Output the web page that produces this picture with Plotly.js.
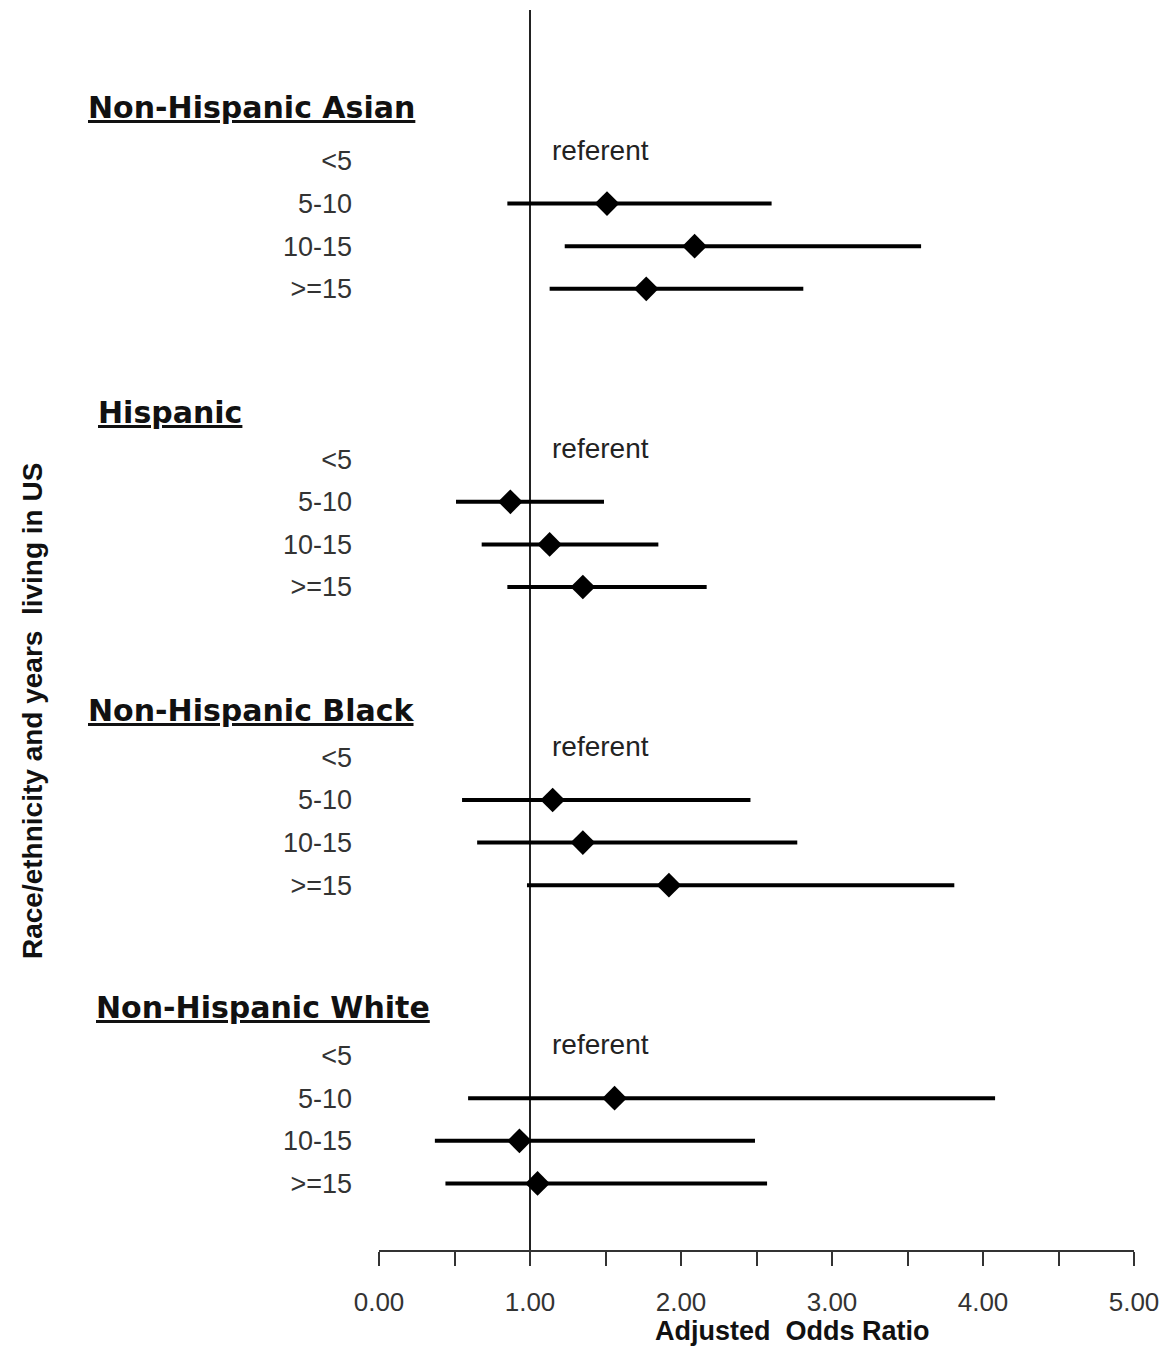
<!DOCTYPE html>
<html>
<head>
<meta charset="utf-8">
<script src="https://cdn.plot.ly/plotly-3.0.1.min.js"></script>
<style>html,body{margin:0;padding:0;background:#fff;}</style>
</head>
<body>
<div id="chart" style="width:1169px;height:1349px;"></div>
<script>
// ---- data ----
var groups = ["Non-Hispanic Asian", "Hispanic", "Non-Hispanic Black", "Non-Hispanic White"];
var rows = ["<5", "5-10", "10-15", ">=15"];
var refLabel = "referent";

var asianOR   = [null, 1.51, 2.09, 1.77];
var asianLow  = [null, 0.85, 1.23, 1.13];
var asianHigh = [null, 2.60, 3.59, 2.81];

var hispOR   = [null, 0.87, 1.13, 1.35];
var hispLow  = [null, 0.51, 0.68, 0.85];
var hispHigh = [null, 1.49, 1.85, 2.17];

var blackOR   = [null, 1.15, 1.35, 1.92];
var blackLow  = [null, 0.55, 0.65, 0.98];
var blackHigh = [null, 2.46, 2.77, 3.81];

var whiteOR   = [null, 1.56, 0.93, 1.05];
var whiteLow  = [null, 0.59, 0.37, 0.44];
var whiteHigh = [null, 4.08, 2.49, 2.57];

var xTickVals = [0, 0.5, 1, 1.5, 2, 2.5, 3, 3.5, 4, 4.5, 5];
var xTickText = ["0.00", "", "1.00", "", "2.00", "", "3.00", "", "4.00", "", "5.00"];
var xTitle = "Adjusted  Odds Ratio";
var yTitle = "Race/ethnicity and years  living in US";

// ---- build ----
var ORs = [asianOR, hispOR, blackOR, whiteOR];
var lows = [asianLow, hispLow, blackLow, whiteLow];
var highs = [asianHigh, hispHigh, blackHigh, whiteHigh];

var W = 1169, H = 1349;
var M = {l: 379, r: 35, t: 10, b: 99};
var plotW = W - M.l - M.r, plotH = H - M.t - M.b;
function pxX(px) { return (px - M.l) / plotW; }
function pxY(py) { return (H - M.b - py) / plotH; }

var GROUP_STEP = 7;
var xs = [], ys = [], ep = [], em = [];
var tickVals = [], tickText = [];
var annotations = [];
var headerLeft = [86, 96, 86, 94];
var headerOff = [-1.25, -1.1, -1.1, -1.12];

for (var g = 0; g < groups.length; g++) {
  for (var r = 0; r < rows.length; r++) {
    var yy = g * GROUP_STEP + r;
    tickVals.push(yy);
    tickText.push(rows[r]);
    var v = ORs[g][r];
    if (v !== null) {
      xs.push(v); ys.push(yy);
      ep.push(highs[g][r] - v);
      em.push(v - lows[g][r]);
    } else {
      annotations.push({
        x: 1.13, y: yy - 0.25, xref: 'x', yref: 'y',
        text: refLabel, showarrow: false, xanchor: 'left', yanchor: 'middle',
        font: {family: 'Liberation Sans, Arial, sans-serif', size: 28, color: '#222'}
      });
    }
  }
  annotations.push({
    x: pxX(headerLeft[g]), xref: 'paper', y: g * GROUP_STEP + headerOff[g], yref: 'y',
    text: groups[g], showarrow: false, xanchor: 'left', yanchor: 'middle',
    font: {family: 'DejaVu Sans, sans-serif', size: 30, color: '#111', weight: 'bold', lineposition: 'under'}
  });
}

annotations.push({
  x: pxX(792), y: pxY(1331), xref: 'paper', yref: 'paper',
  text: '<b>' + xTitle + '</b>', showarrow: false, xanchor: 'center', yanchor: 'middle',
  font: {family: 'Liberation Sans, Arial, sans-serif', size: 27, color: '#111'}
});
annotations.push({
  x: pxX(32), y: pxY(711), xref: 'paper', yref: 'paper',
  text: '<b>' + yTitle + '</b>', showarrow: false, textangle: -90,
  xanchor: 'center', yanchor: 'middle',
  font: {family: 'Liberation Sans, Arial, sans-serif', size: 28, color: '#111'}
});

var trace = {
  type: 'scatter', mode: 'markers',
  x: xs, y: ys,
  marker: {symbol: 'diamond', size: 19, color: '#000'},
  error_x: {type: 'data', symmetric: false, array: ep, arrayminus: em,
            color: '#000', thickness: 4, width: 0},
  hoverinfo: 'x+y', showlegend: false
};

var rowUnit = 42.6;
var topIdx = -(161 - M.t) / rowUnit;
var botIdx = topIdx + plotH / rowUnit;

var layout = {
  width: W, height: H,
  margin: M,
  paper_bgcolor: '#fff', plot_bgcolor: '#fff',
  showlegend: false,
  xaxis: {
    range: [0, 5], tickvals: xTickVals, ticktext: xTickText,
    showgrid: false, zeroline: false,
    showline: true, linecolor: '#333', linewidth: 2,
    ticks: 'outside', ticklen: 14, tickwidth: 2, tickcolor: '#333',
    ticklabelstandoff: 14,
    tickfont: {family: 'Liberation Sans, Arial, sans-serif', size: 26, color: '#333'}
  },
  yaxis: {
    range: [botIdx, topIdx],
    tickvals: tickVals, ticktext: tickText,
    showgrid: false, zeroline: false, showline: false, ticks: '',
    ticklabelstandoff: 26,
    tickfont: {family: 'Liberation Sans, Arial, sans-serif', size: 27, color: '#333'}
  },
  shapes: [{
    type: 'line', xref: 'x', yref: 'paper', x0: 1, x1: 1, y0: 0, y1: 1,
    line: {color: '#222', width: 2}, layer: 'below'
  }],
  annotations: annotations
};

Plotly.newPlot('chart', [trace], layout, {displayModeBar: false, staticPlot: true});
</script>
</body>
</html>
